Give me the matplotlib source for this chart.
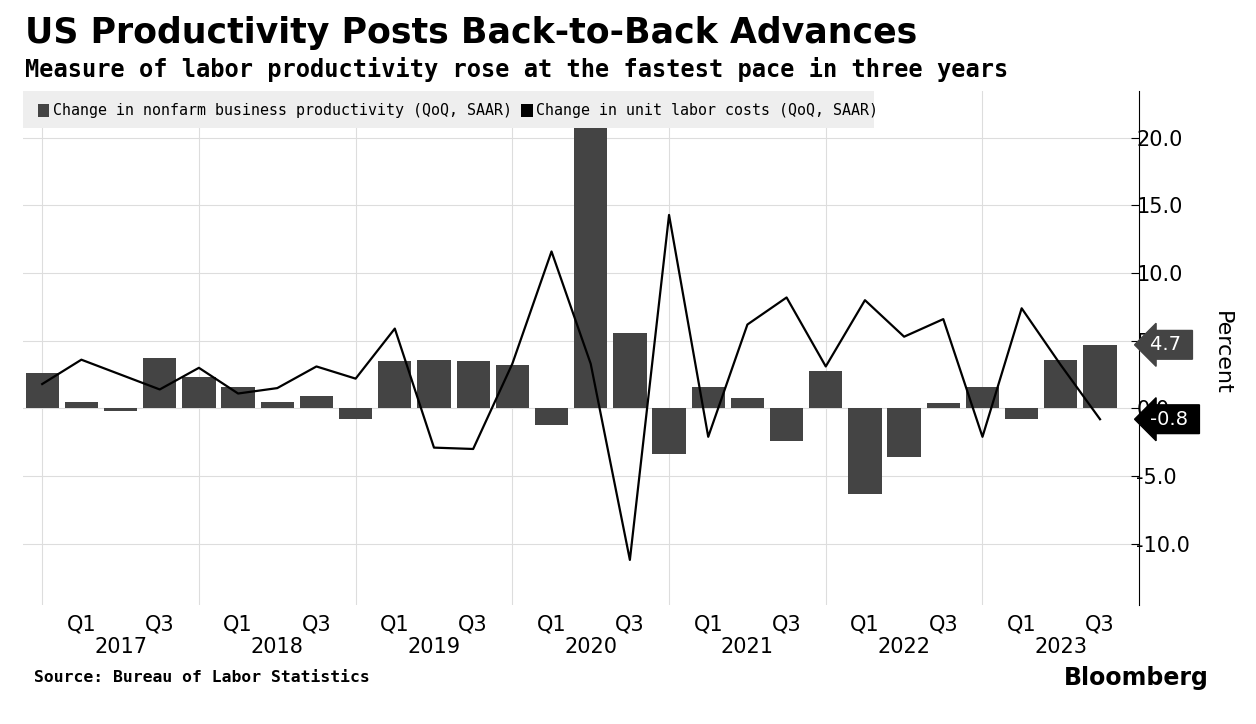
import numpy as np
import matplotlib.pyplot as plt

quarters = ["2016Q4"] + [f"{y}Q{q}" for y in range(2017, 2024) for q in range(1, 5)][:27]
productivity = [2.6, 0.5, -0.2, 3.7, 2.3, 1.6, 0.5, 0.9, -0.8, 3.5, 3.6, 3.5, 3.2, -1.2,
                20.7, 5.6, -3.4, 1.6, 0.8, -2.4, 2.8, -6.3, -3.6, 0.4, 1.6, -0.8, 3.6, 4.7]
labor_costs = [1.8, 3.6, 2.5, 1.4, 3.0, 1.1, 1.5, 3.1, 2.2, 5.9, -2.9, -3.0, 3.3, 11.6,
               3.3, -11.2, 14.3, -2.1, 6.2, 8.2, 3.1, 8.0, 5.3, 6.6, -2.1, 7.4, 3.2, -0.8]
yticks = [-10, -5, 0, 5, 10, 15, 20]

x = np.arange(len(quarters))
fig = plt.figure(figsize=(12.56, 7.24), dpi=100)
ax = fig.add_axes([0.018, 0.165, 0.889, 0.71])
ax.bar(x, productivity, width=0.85, color="#444444", zorder=2)
ax.plot(x, labor_costs, color="black", lw=1.6, zorder=3)
ax.set_xlim(-0.5, 28.0)
ax.set_ylim(-14.5, 23.5)

ax.yaxis.tick_right()
ax.set_yticks(yticks)
ax.set_yticklabels([f"{v:.1f}" for v in yticks], fontsize=15)
ax.tick_params(axis="y", length=6, direction="in", pad=-2)
ax.set_xticks(np.arange(0, 28, 4))
ax.set_xticklabels([])
ax.tick_params(axis="x", length=0)
ax.grid(axis="both", color="#dddddd", lw=0.8, zorder=0)
for s in ["top", "left", "bottom"]:
    ax.spines[s].set_visible(False)
ax.spines["right"].set_color("black")

# quarter / year labels
for i, q in enumerate(quarters):
    if q[-1] in "13":
        ax.text(i, -15.2, q[-2:], ha="center", va="top", fontsize=15)
    if q[-1] == "2":
        ax.text(i, -16.9, q[:4], ha="center", va="top", fontsize=15)

ax.text(1.065, 0.49, "Percent", transform=ax.transAxes, rotation=270, fontsize=16, va="center", ha="left")

# value badges
for val, col in [(productivity[-1], "#444444"), (labor_costs[-1], "black")]:
    ax.annotate(f"{val:.1f} ", xy=(1.0, val), xycoords=("axes fraction", "data"),
                xytext=(8, 0), textcoords="offset points", va="center", fontsize=14,
                color="white", zorder=5,
                bbox=dict(boxstyle="larrow,pad=0.25", fc=col, ec=col))

# legend box
fig.patches.append(plt.Rectangle((0.018, 0.823), 0.678, 0.052, transform=fig.transFigure,
                                 fc="#eeeeee", ec="none"))
fig.patches.append(plt.Rectangle((0.030, 0.838), 0.009, 0.019, transform=fig.transFigure, fc="#444444"))
fig.text(0.042, 0.847, "Change in nonfarm business productivity (QoQ, SAAR)", fontsize=10.8,
         family="DejaVu Sans Mono", va="center")
fig.patches.append(plt.Rectangle((0.415, 0.838), 0.009, 0.019, transform=fig.transFigure, fc="black"))
fig.text(0.427, 0.847, "Change in unit labor costs (QoQ, SAAR)", fontsize=10.8,
         family="DejaVu Sans Mono", va="center")

fig.text(0.02, 0.955, "US Productivity Posts Back-to-Back Advances", fontsize=25, weight="bold", va="center")
fig.text(0.02, 0.904, "Measure of labor productivity rose at the fastest pace in three years",
         fontsize=17, weight="bold", family="DejaVu Sans Mono", va="center")
fig.text(0.027, 0.064, "Source: Bureau of Labor Statistics", fontsize=11.8, weight="bold",
         family="DejaVu Sans Mono", va="center")
fig.text(0.962, 0.064, "Bloomberg", fontsize=17, weight="bold", ha="right", va="center")

fig.savefig("out.png", dpi=100)
